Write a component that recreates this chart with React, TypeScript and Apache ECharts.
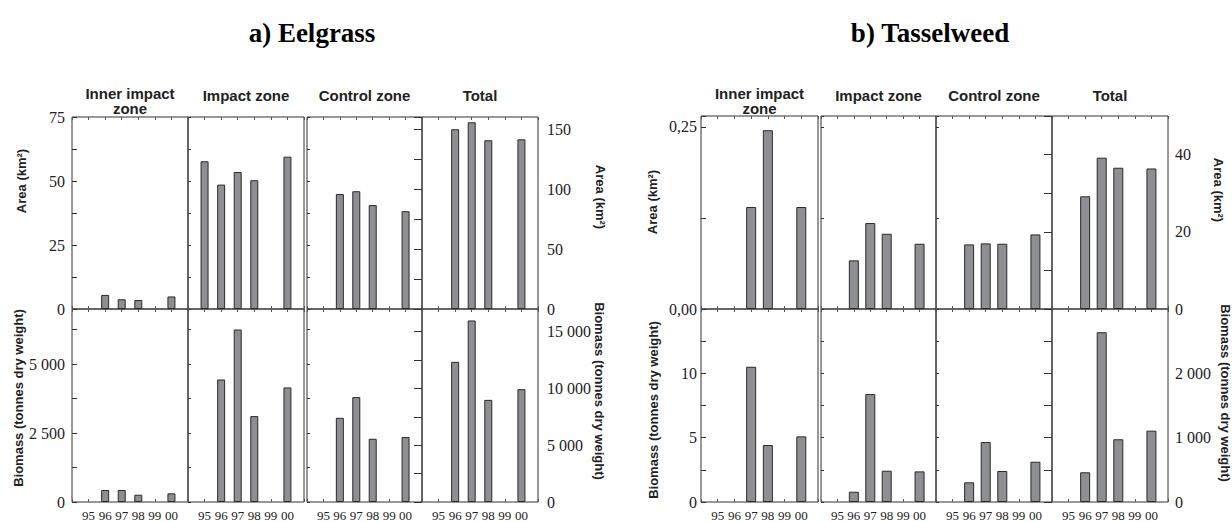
import React, { useEffect, useRef } from 'react';
import * as echarts from 'echarts';

// ---- categories / labels ----
const years = ['95', '96', '97', '98', '99', '00'];
const zones = ['Inner impact\nzone', 'Impact zone', 'Control zone', 'Total'];
const figureTitles = ['a) Eelgrass', 'b) Tasselweed'];
const areaName = 'Area (km²)';
const bioName = 'Biomass (tonnes dry weight)';

// ---- a) Eelgrass ----
const eelAreaInner = [null, 5.5, 3.8, 3.5, null, 4.9];
const eelAreaImpact = [57.7, 48.6, 53.5, 50.3, null, 59.5];
const eelAreaControl = [null, 44.9, 46.0, 40.6, null, 38.2];
const eelAreaTotal = [null, 149.8, 155.6, 140.6, null, 141.4];
const eelBioInner = [null, 435, 435, 264, null, 315];
const eelBioImpact = [null, 4444, 6257, 3116, null, 4155];
const eelBioControl = [null, 3054, 3804, 2293, null, 2355];
const eelBioTotal = [null, 12346, 15988, 8995, null, 9938];

// ---- b) Tasselweed ----
const tasAreaInner = [null, null, 0.14, 0.2455, null, 0.14];
const tasAreaImpact = [null, 0.0668, 0.118, 0.1033, null, 0.0896];
const tasAreaControl = [null, 0.0887, 0.0901, 0.0896, null, 0.1024];
const tasAreaTotal = [null, 29.2, 39.2, 36.6, null, 36.4];
const tasBioInner = [null, null, 10.51, 4.43, null, 5.1];
const tasBioImpact = [null, 0.8, 8.39, 2.43, null, 2.38];
const tasBioControl = [null, 1.53, 4.66, 2.41, null, 3.13];
const tasBioTotal = [null, 462, 2639, 975, null, 1109];

const SERIF = '"Liberation Serif", "Times New Roman", serif';
const SANS = '"Liberation Sans", Arial, sans-serif';
const INK = '#222';

const fmtSpace = (v: number) => {
  const s = String(Math.round(v));
  return s.length > 3 ? s.slice(0, s.length - 3) + ' ' + s.slice(s.length - 3) : s;
};
const fmtComma = (v: number) => v.toFixed(2).replace('.', ',');

type Scale = { max: number; step: number; labelStep: number; fmt: (v: number) => string };

const figures = [
  {
    cols: [[72, 188], [188, 304], [307, 422], [422, 538]],
    rows: [[117, 309], [309, 502]],
    data: [
      [eelAreaInner, eelAreaImpact, eelAreaControl, eelAreaTotal],
      [eelBioInner, eelBioImpact, eelBioControl, eelBioTotal],
    ],
    left: [
      { max: 75, step: 12.5, labelStep: 25, fmt: fmtSpace },
      { max: 7000, step: 1250, labelStep: 2500, fmt: fmtSpace },
    ] as Scale[],
    right: [
      { max: 160, step: 25, labelStep: 50, fmt: fmtSpace },
      { max: 17000, step: 2500, labelStep: 5000, fmt: fmtSpace },
    ] as Scale[],
    barWidth: 8,
    leftMargin: 7,
    rightMargin: 9,
    titleX: 312,
    names: { lx: [21, 18], ly: [181, 398], rx: [600, 599], ry: [197, 391] },
  },
  {
    cols: [[701, 818], [821, 936], [936, 1052], [1052, 1168]],
    rows: [[116, 309], [309, 502]],
    data: [
      [tasAreaInner, tasAreaImpact, tasAreaControl, tasAreaTotal],
      [tasBioInner, tasBioImpact, tasBioControl, tasBioTotal],
    ],
    left: [
      { max: 0.265, step: 0.125, labelStep: 0.25, fmt: fmtComma },
      { max: 15, step: 2.5, labelStep: 5, fmt: fmtSpace },
    ] as Scale[],
    right: [
      { max: 50, step: 10, labelStep: 20, fmt: fmtSpace },
      { max: 3000, step: 500, labelStep: 1000, fmt: fmtSpace },
    ] as Scale[],
    barWidth: 10,
    leftMargin: 4,
    rightMargin: 7,
    titleX: 930,
    names: { lx: [652, 653], ly: [202, 410], rx: [1218, 1225], ry: [190, 393] },
  },
];

const onStep = (v: number, step: number) => Math.abs(v / step - Math.round(v / step)) < 1e-6;

export default function App() {
  const ref = useRef<HTMLDivElement>(null);
  useEffect(() => {
    const chart = echarts.init(ref.current!, null, { renderer: 'svg' });
    const grid: any[] = [];
    const xAxis: any[] = [];
    const yAxis: any[] = [];
    const series: any[] = [];
    const graphic: any[] = [];

    const txt = (x: number, y: number, text: string, font: string, rotation = 0, extra: any = {}) => ({
      type: 'text',
      x,
      y,
      rotation,
      style: {
        text,
        font,
        fill: INK,
        align: 'center',
        verticalAlign: 'middle',
        textAlign: 'center',
        textVerticalAlign: 'middle',
        ...extra,
      },
    });

    figures.forEach((fig, fi) => {
      graphic.push(txt(fig.titleX, 33, figureTitles[fi], `bold 27px ${SERIF}`, 0, { fill: '#000' }));
      fig.cols.forEach((c, ci) => {
        graphic.push(
          txt((c[0] + c[1]) / 2, ci === 0 ? 101 : 95, zones[ci], `bold 15px ${SANS}`, 0, { lineHeight: 15 })
        );
      });
      [areaName, bioName].forEach((nm, ri) => {
        graphic.push(txt(fig.names.lx[ri], fig.names.ly[ri], nm, `bold 13px ${SANS}`, Math.PI / 2));
        graphic.push(txt(fig.names.rx[ri], fig.names.ry[ri], nm, `bold 13px ${SANS}`, -Math.PI / 2));
      });

      fig.rows.forEach((r, ri) => {
        fig.cols.forEach((c, ci) => {
          const gi = grid.length;
          grid.push({
            left: c[0],
            top: r[0],
            width: c[1] - c[0],
            height: r[1] - r[0],
            show: true,
            borderColor: '#333',
            borderWidth: 1,
            backgroundColor: 'transparent',
            containLabel: false,
          });
          const xi = xAxis.length;
          xAxis.push({
            gridIndex: gi,
            type: 'value',
            min: 0,
            max: 7,
            interval: 1,
            position: 'bottom',
            axisLine: { show: false },
            axisTick: { show: true, inside: true, length: 3, lineStyle: { color: '#555' } },
            splitLine: { show: false },
            axisLabel: {
              show: ri === 1,
              margin: 7,
              fontFamily: SERIF,
              fontSize: 13,
              color: INK,
              formatter: (v: number) => (v >= 1 && v <= 6 ? years[v - 1] : ''),
            },
          });
          xAxis.push({
            gridIndex: gi,
            type: 'value',
            min: 0,
            max: 7,
            interval: 1,
            position: 'top',
            axisLine: { show: false },
            axisTick: { show: true, inside: true, length: 3, lineStyle: { color: '#555' } },
            splitLine: { show: false },
            axisLabel: { show: false },
          });
          const isRight = ci === 3;
          const sc: Scale = isRight ? fig.right[ri] : fig.left[ri];
          const showLabels = ci === 0 || ci === 3;
          const yi = yAxis.length;
          yAxis.push({
            gridIndex: gi,
            type: 'value',
            position: isRight ? 'right' : 'left',
            min: 0,
            max: sc.max,
            interval: sc.step,
            axisLine: { show: false },
            splitLine: { show: false },
            axisTick: {
              show: true,
              inside: true,
              length: showLabels ? (isRight ? 8 : 5) : 3,
              lineStyle: { color: '#333' },
            },
            axisLabel: {
              show: showLabels,
              interval: 0,
              showMaxLabel: ri === 0,
              showMinLabel: true,
              hideOverlap: false,
              margin: isRight ? fig.rightMargin : fig.leftMargin,
              fontFamily: SERIF,
              fontSize: 16,
              color: INK,
              formatter: (v: number) => (onStep(v, sc.labelStep) ? sc.fmt(v) : ''),
            },
          });
          const vals = fig.data[ri][ci];
          series.push({
            type: 'bar',
            xAxisIndex: xi,
            yAxisIndex: yi,
            barWidth: fig.barWidth,
            silent: true,
            itemStyle: { color: '#8e8f92', borderColor: '#2a2a2a', borderWidth: 1 },
            data: vals
              .map((v, i) => (v == null ? null : [i + 1, v]))
              .filter((d) => d !== null),
          });
        });
      });
    });

    chart.setOption({
      animation: false,
      backgroundColor: '#fff',
      grid,
      xAxis,
      yAxis,
      series,
      graphic,
    });
    return () => chart.dispose();
  }, []);
  return (
    <div
      ref={ref}
      style={{ position: 'absolute', left: 0, top: 0, width: 1232, height: 522, background: '#fff' }}
    />
  );
}
